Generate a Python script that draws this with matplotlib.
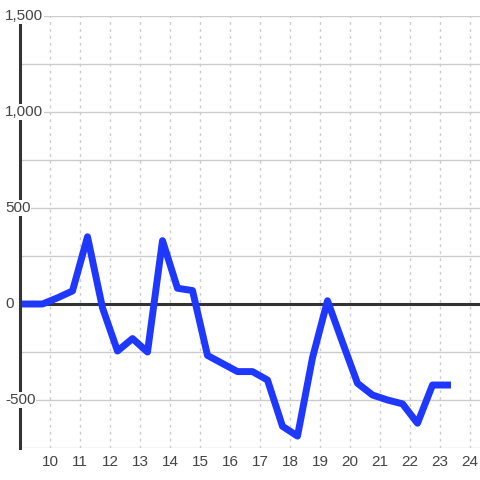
import numpy as np
import matplotlib
matplotlib.use('Agg')
import matplotlib.pyplot as plt

plt.rcParams['font.family'] = ['Liberation Sans', 'DejaVu Sans']

# half-hourly readings
hours = [8.75, 9.25, 9.75, 10.25, 10.75, 11.25, 11.75, 12.25, 12.75, 13.25,
         13.75, 14.25, 14.75, 15.25, 15.75, 16.25, 16.75, 17.25, 17.75, 18.25,
         18.75, 19.25, 19.75, 20.25, 20.75, 21.25, 21.75, 22.25, 22.75, 23.25]
values = [0, 0, 0, 32, 68, 350, -20, -245, -180, -250,
          330, 82, 70, -268, -310, -352, -352, -396, -637, -688,
          -280, 17, -200, -413, -474, -500, -520, -621, -422, -422]

x_ticks = list(range(10, 25))
y_labels = [1500, 1000, 500, 0, -500]
y_label_text = ['1,500', '1,000', '500', '0', '-500']

fig = plt.figure(figsize=(4.8, 4.8), dpi=100)
fig.patch.set_facecolor('white')
ax = fig.add_axes([20 / 480, 32 / 480, 460 / 480, 432 / 480])
ax.set_facecolor('white')

ax.set_xlim(9, 9 + 460 / 30)
ax.set_ylim(-750, 1500)

# grid
for yv in np.arange(-750, 1501, 250):
    ax.axhline(yv, color='#cccccc', lw=1, zorder=1)
for xv in x_ticks:
    ax.axvline(xv, color='#cccccc', lw=1, ls=(0, (2, 3)), zorder=1)

ax.axhline(0, color='#333333', lw=2.2, zorder=2)

ax.plot(hours, values, color='#1f38ff', lw=5.0, zorder=3)

for s in ['top', 'right', 'bottom']:
    ax.spines[s].set_visible(False)
ax.spines['left'].set_color('#333333')
ax.spines['left'].set_linewidth(2.2)
ax.spines['left'].set_zorder(4)

ax.set_yticks([])
ax.set_xticks(x_ticks)
ax.set_xticklabels([str(t) for t in x_ticks])
ax.tick_params(axis='x', length=0, pad=5, labelsize=11, labelcolor='#444444')

for yv, txt in zip(y_labels, y_label_text):
    ax.text(-15 / 460, yv, txt, transform=ax.get_yaxis_transform(),
            ha='left', va='center', fontsize=11, color='#444444', zorder=5,
            bbox=dict(facecolor='white', edgecolor='none', pad=0.5),
            clip_on=False)

fig.savefig('out.png', dpi=100)
